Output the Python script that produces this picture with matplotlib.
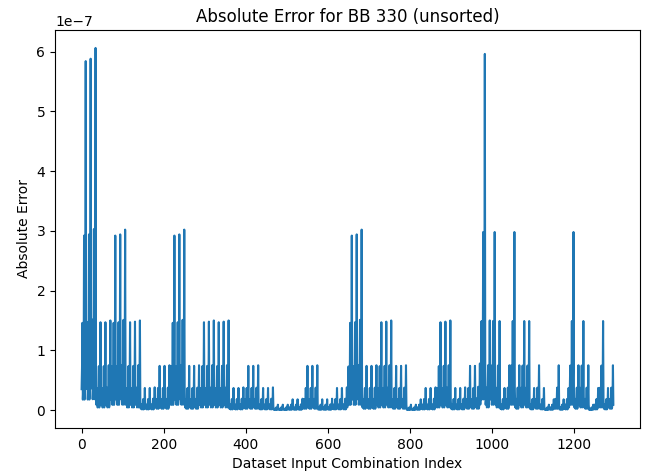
import numpy as np
import matplotlib
matplotlib.use("Agg")
import matplotlib.pyplot as plt

# peak error of every 12-sample cycle (units of 1e-7)
cycle_peaks = [
	5.84, 5.88, 6.06,  1.47, 1.47, 1.50,  2.92, 2.94, 3.02,
	1.47, 1.48, 1.50,  0.37, 0.37, 0.38,  0.74, 0.74, 0.75,
	2.92, 2.94, 3.02,  0.74, 0.74, 0.75,  1.47, 1.48, 1.50,
	1.47, 1.48, 1.50,  0.37, 0.37, 0.38,  0.74, 0.74, 0.75,
	0.37, 0.37, 0.38,  0.09, 0.09, 0.09,  0.18, 0.18, 0.19,
	0.74, 0.74, 0.75,  0.18, 0.18, 0.19,  0.37, 0.37, 0.38,
	2.92, 2.94, 3.02,  0.74, 0.74, 0.75,  1.47, 1.48, 1.50,
	0.74, 0.74, 0.75,  0.09, 0.09, 0.18,  0.37, 0.37, 0.38,
	1.47, 1.48, 1.50,  0.37, 0.37, 0.38,  0.74, 0.74, 0.78,
	5.96, 1.50, 2.98, 1.49, 0.37, 0.75, 2.98, 0.75, 1.49,
	1.49, 0.37, 0.75, 0.37, 0.09, 0.18, 0.75, 0.18, 0.37,
	2.98, 0.75, 1.49, 0.75, 0.09, 0.37, 1.49, 0.37, 0.75,
]

# relative shape of the error inside one cycle
cycle_shape = [0.06, 0.12, 0.25, 0.03, 0.06, 0.12, 0.5, 0.03, 0.06, 0.25, 1.0, 0.12]

err = (np.array(cycle_peaks)[:, None] * np.array(cycle_shape)[None, :]).ravel() * 1e-7
idx = np.arange(len(err))

fig, ax = plt.subplots(figsize=(6.55, 4.74), dpi=100)
fig.subplots_adjust(left=0.084, right=0.977, top=0.937, bottom=0.097)

ax.plot(idx, err)
ax.set_title("Absolute Error for BB 330 (unsorted)")
ax.set_xlabel("Dataset Input Combination Index")
ax.set_ylabel("Absolute Error")

fig.savefig("out.png")
